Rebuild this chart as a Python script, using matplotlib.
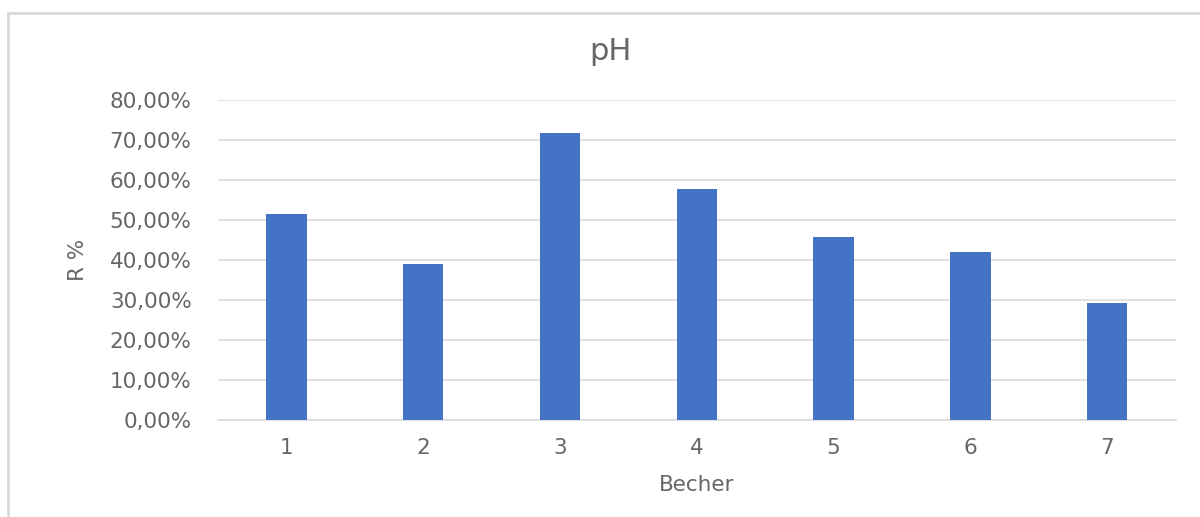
import matplotlib.pyplot as plt
from matplotlib.lines import Line2D
from matplotlib.ticker import FuncFormatter

# Ergebnisse pro Becher (R in %)
becher = ["1", "2", "3", "4", "5", "6", "7"]
r_werte = [51.4, 38.9, 71.8, 57.7, 45.75, 42.1, 29.3]

plt.rcParams['font.family'] = ['DejaVu Sans']
grau = '#666666'

fig = plt.figure(figsize=(12, 5.17), dpi=100)
ax = fig.add_axes([218 / 1200, 1 - 420 / 517, (1175.7 - 218) / 1200, 320 / 517])

x = range(len(becher))
ax.bar(x, r_werte, width=0.295, color='#4472C4', zorder=3)

ax.set_xlim(-0.5, len(becher) - 0.5)
ax.set_ylim(0, 80)
ax.set_yticks(range(0, 81, 10))
ax.yaxis.set_major_formatter(FuncFormatter(lambda v, p: f"{v:.2f}%".replace('.', ',')))
ax.set_xticks(list(x))
ax.set_xticklabels(becher)

ax.grid(axis='y', color='#D9D9D9', linewidth=1.1, zorder=0)
for s in ['top', 'right', 'left']:
    ax.spines[s].set_visible(False)
ax.spines['bottom'].set_color('#D9D9D9')
ax.spines['bottom'].set_linewidth(1.1)
ax.tick_params(axis='both', length=0, labelsize=15.5, colors=grau)
ax.tick_params(axis='y', pad=19)
ax.tick_params(axis='x', pad=13)

fig.text(610 / 1200, 1 - 52 / 517, "pH", fontsize=22, color=grau, ha='center', va='center')
ax.set_xlabel("Becher", fontsize=15.5, color=grau, labelpad=12)
ax.set_ylabel("R %", fontsize=15.5, color=grau, labelpad=16)

# Rahmen des Diagrammbereichs
fig.add_artist(Line2D([8 / 1200, 8 / 1200], [0, 1 - 13 / 517], transform=fig.transFigure,
                      color='#D9D9D9', linewidth=2))
fig.add_artist(Line2D([8 / 1200, 1], [1 - 13 / 517, 1 - 13 / 517], transform=fig.transFigure,
                      color='#D9D9D9', linewidth=2))

fig.savefig("out.png", dpi=100)
